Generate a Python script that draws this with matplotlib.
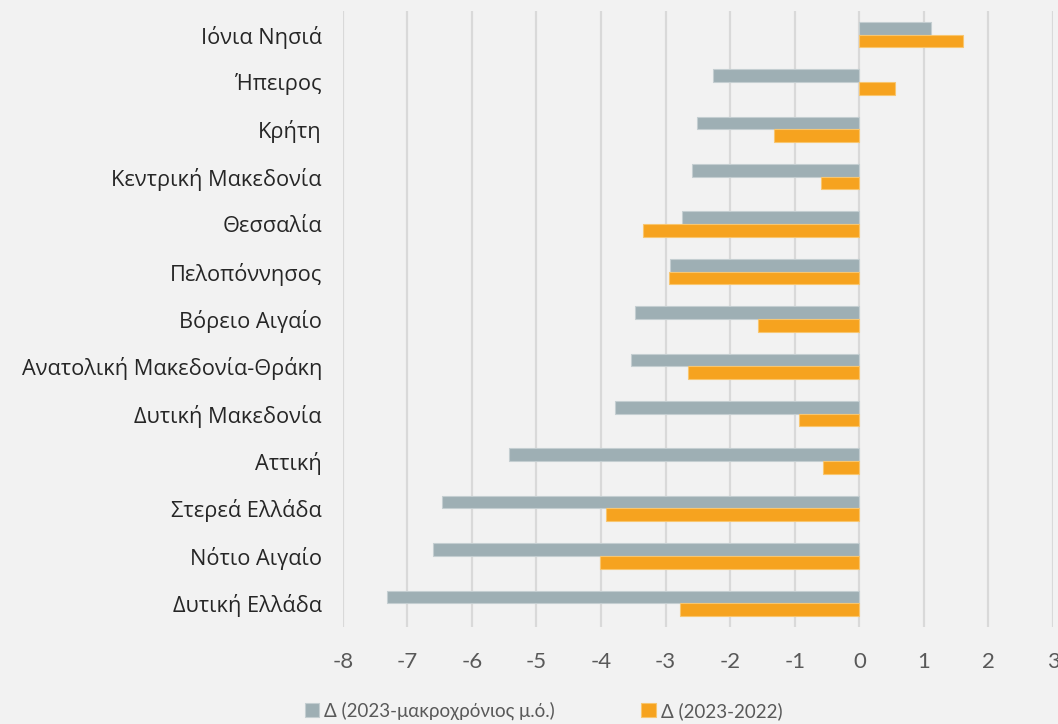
import matplotlib.pyplot as plt
import numpy as np

regions = ["Ιόνια Νησιά", "Ήπειρος", "Κρήτη", "Κεντρική Μακεδονία", "Θεσσαλία",
           "Πελοπόννησος", "Βόρειο Αιγαίο", "Ανατολική Μακεδονία-Θράκη",
           "Δυτική Μακεδονία", "Αττική", "Στερεά Ελλάδα", "Νότιο Αιγαίο",
           "Δυτική Ελλάδα"]
d_longterm = [1.11, -2.27, -2.52, -2.59, -2.74, -2.94, -3.48, -3.53, -3.78,
              -5.42, -6.47, -6.60, -7.31]
d_prev_year = [1.60, 0.56, -1.32, -0.59, -3.35, -2.95, -1.57, -2.66, -0.94,
               -0.57, -3.92, -4.02, -2.77]
label_longterm = "Δ (2023-μακροχρόνιος μ.ό.)"
label_prev_year = "Δ (2023-2022)"
xticks = list(range(-8, 4))

bg = "#f2f2f2"
gray = "#9eafb4"
orange = "#f6a31f"

fig = plt.figure(figsize=(10.58, 7.24), dpi=100, facecolor=bg)
ax = fig.add_axes([0.324, 0.134, 0.6713, 0.851], facecolor=bg)

y = np.arange(len(regions))
h = 0.268
ax.barh(y - h / 2, d_longterm, height=h, color=gray, edgecolor="#c4ced1",
        linewidth=0.8, label=label_longterm, zorder=3)
ax.barh(y + h / 2, d_prev_year, height=h, color=orange, edgecolor="#f8c66f",
        linewidth=0.8, label=label_prev_year, zorder=3)

ax.set_xlim(-8, 3)
ax.set_ylim(len(regions) - 0.5, -0.5)
ax.set_xticks(xticks)
ax.set_xticklabels([str(t) for t in xticks], fontfamily="Lato", fontsize=16,
                   color="#595959")
ax.set_yticks(y)
ax.set_yticklabels(regions, fontfamily="Open Sans", fontsize=15.7,
                   color="#262626")
ax.tick_params(axis="both", length=0)
ax.tick_params(axis="y", pad=15)
ax.tick_params(axis="x", pad=18)
ax.grid(axis="x", color="#d9d9d9", linewidth=1.6, zorder=0)
ax.set_axisbelow(True)
for s in ax.spines.values():
    s.set_visible(False)

leg = fig.legend(loc="lower center", bbox_to_anchor=(0.514, -0.018), ncol=2,
                 frameon=False, handlelength=0.75, handleheight=0.75,
                 handletextpad=0.3, columnspacing=4.6,
                 prop={"family": "Lato", "size": 13.5})
for t in leg.get_texts():
    t.set_color("#595959")

fig.savefig("out.png", dpi=100, facecolor=bg)
